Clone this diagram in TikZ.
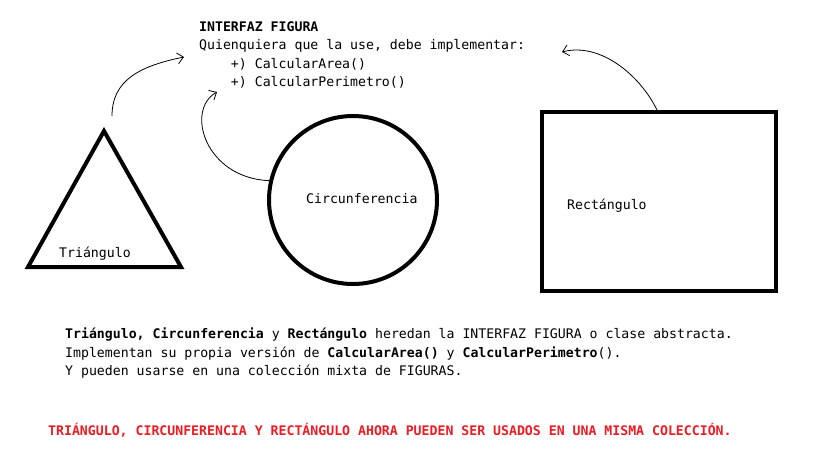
\documentclass[tikz,border=0pt]{standalone}
\usepackage{fontspec}
\setmonofont{DejaVu Sans Mono}
\usetikzlibrary{arrows.meta}
\definecolor{redtxt}{RGB}{237,28,36}
\tikzset{
  txt/.style={font=\ttfamily\fontsize{13.2}{18}\selectfont, inner sep=0pt, anchor=base west, text=black},
  redline/.style={txt, text=redtxt, font=\ttfamily\bfseries\fontsize{13.2}{18}\selectfont},
  shapeline/.style={line width=4pt, line join=miter},
  handarrow/.style={line width=0.8pt, -{Straight Barb[length=6pt,width=11pt]}},
}
\begin{document}
\begin{tikzpicture}[x=1pt,y=-1pt]
\useasboundingbox (0,0) rectangle (816,460);
% header
\node[txt] (h1) at (199,32) {\bfseries INTERFAZ FIGURA};
\node[txt] (h2) at (199,50) {Quienquiera que la use, debe implementar:};
\node[txt] (h3) at (199,68) {\ \ \ \ +) CalcularArea()};
\node[txt] (h4) at (199,86) {\ \ \ \ +) CalcularPerimetro()};
% triangle
\coordinate (t1) at (104,131);
\coordinate (t2) at (28,267);
\coordinate (t3) at (181,267);
\draw[shapeline] (t1) -- (t2) -- (t3) -- cycle;
\node[txt] (tlab) at (59,257) {Triángulo};
% circle
\node[draw, circle, shapeline, minimum size=168pt, inner sep=0pt] (circ) at (353,200) {};
\node[txt] (clab) at (306,203) {Circunferencia};
% rectangle
\node[draw, rectangle, shapeline, minimum width=234pt, minimum height=179pt, inner sep=0pt] (rect) at (659,201.5) {};
\node[txt] (rlab) at (567,209) {Rectángulo};
% arrows
\coordinate (a1s) at (112,116);
\coordinate (a1e) at (184,57);
\coordinate (a2e) at (217,92);
\coordinate (a3s) at (657,110);
\coordinate (a3e) at (562,52);
\draw[handarrow] (a1s) .. controls (112,80) and (140,66) .. (a1e);
\draw[handarrow] (circ.167) .. controls (205,178) and (185,110) .. (a2e);
\draw[handarrow] (a3s) .. controls (640,75) and (600,42) .. (a3e);
% bottom text
\node[txt] (b1) at (65,338) {\textbf{Triángulo,} \textbf{Circunferencia} y \textbf{Rectángulo} heredan la INTERFAZ FIGURA o clase abstracta.};
\node[txt] (b2) at (65,357) {Implementan su propia versión de \textbf{CalcularArea()} y \textbf{CalcularPerimetro}().};
\node[txt] (b3) at (65,375) {Y pueden usarse en una colección mixta de FIGURAS.};
\node[redline] (red) at (48,435) {TRIÁNGULO, CIRCUNFERENCIA Y RECTÁNGULO AHORA PUEDEN SER USADOS EN UNA MISMA COLECCIÓN.};
\end{tikzpicture}
\end{document}
